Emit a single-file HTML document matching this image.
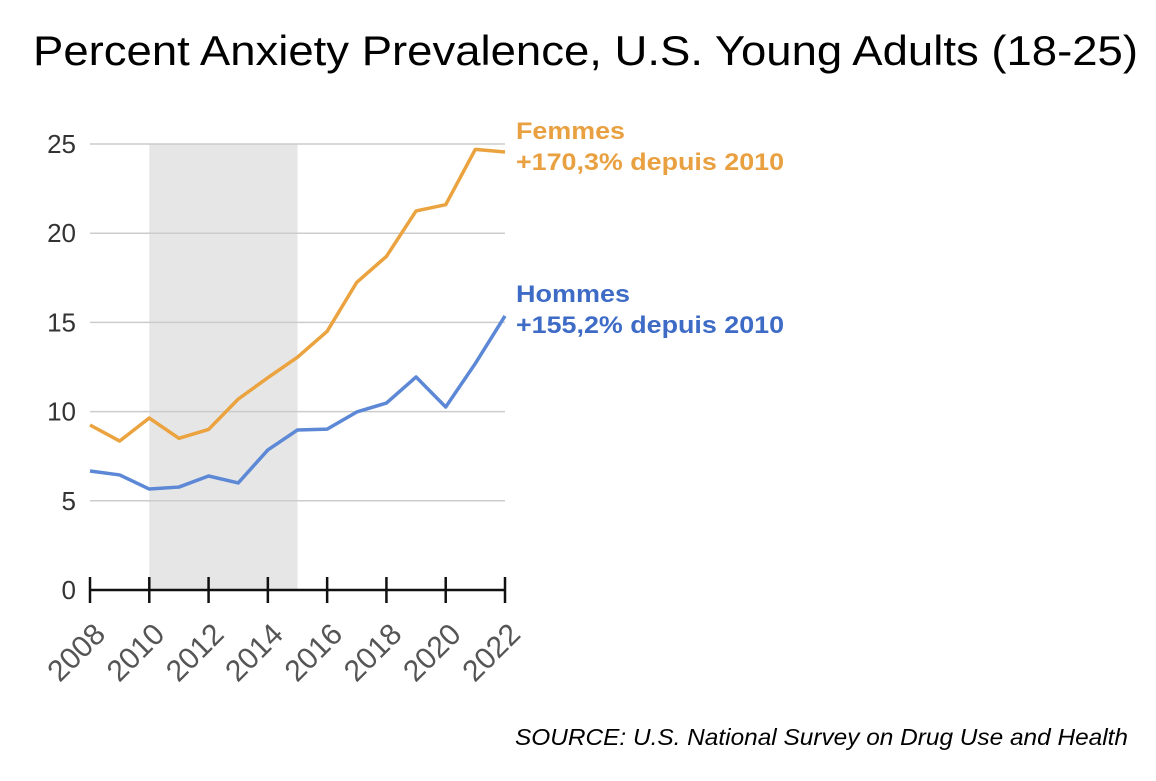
<!DOCTYPE html>
<html><head><meta charset="utf-8"><style>
body{margin:0;background:#fff;width:1156px;height:776px;overflow:hidden}
svg text{font-family:"Liberation Sans",sans-serif}
</style></head><body>
<svg width="1156" height="776">
<text x="33" y="65" font-size="42" textLength="1105" lengthAdjust="spacingAndGlyphs" fill="#000">Percent Anxiety Prevalence, U.S. Young Adults (18-25)</text>
<g id="plot"></g>
<text x="515" y="745" font-size="23" font-style="italic" textLength="613" lengthAdjust="spacingAndGlyphs" fill="#000">SOURCE: U.S. National Survey on Drug Use and Health</text>
</svg>
<script>
const years=[2008,2009,2010,2011,2012,2013,2014,2015,2016,2017,2018,2019,2020,2021,2022];
const femmes=[9.25,8.35,9.64,8.5,9.0,10.7,11.9,13.05,14.5,17.25,18.7,21.25,21.6,24.7,24.55];
const hommes=[6.67,6.45,5.66,5.77,6.39,6.0,7.85,8.97,9.02,9.98,10.48,11.94,10.26,12.7,15.36];
const yTicks=[0,5,10,15,20,25];
const xTicks=[2008,2010,2012,2014,2016,2018,2020,2022];
const band=[2010,2015];
const NS="http://www.w3.org/2000/svg";
const g=document.getElementById('plot');
const X=v=>90+(v-2008)*(415/14);
const Y=v=>590-v*(446/25);
function mk(t,a){const e=document.createElementNS(NS,t);for(const k in a)e.setAttribute(k,a[k]);g.appendChild(e);return e;}
let e=mk('rect',{x:X(band[0]),y:Y(25),width:X(band[1])-X(band[0]),height:Y(0)-Y(25),fill:'#e6e6e6'});


yTicks.forEach(v=>{
 if(v>0){const l=mk('line',{x1:90,x2:505,y1:Y(v),y2:Y(v),stroke:'#ccc','stroke-width':1.5});
 
 }
 const t=mk('text',{x:76,y:Y(v)+9,'text-anchor':'end','font-size':26,fill:'#333'});t.textContent=v;
 
 
});
e=mk('line',{x1:90,x2:505,y1:Y(0),y2:Y(0),stroke:'#111','stroke-width':2.5});


xTicks.forEach(v=>{
 const l=mk('line',{x1:X(v),x2:X(v),y1:577,y2:603,stroke:'#111','stroke-width':2.5});
 
 
 const t=mk('text',{x:X(v)+17,y:636,'text-anchor':'end','font-size':30,fill:'#555',transform:`rotate(-45 ${X(v)+17} 636)`});t.textContent=v;
 
 
});
function line(data,col,name){
 const p=mk('polyline',{points:data.map((v,i)=>X(years[i])+','+Y(v)).join(' '),fill:'none',stroke:col,'stroke-width':3.5,'stroke-linejoin':'round'});
 
 
}
line(femmes,'#EBA340','femmes-line');
line(hommes,'#5C88D6','hommes-line');
function lab(y,txt,col,name,w){const t=mk('text',{x:516,y:y,'font-size':24,'font-weight':'bold',fill:col});t.textContent=txt;
 if(w){t.setAttribute('textLength',w);t.setAttribute('lengthAdjust','spacingAndGlyphs');}
 
 }
lab(139,'Femmes','#E9A040','femmes-legend-title',109);
lab(170,'+170,3% depuis 2010','#E9A040','femmes-legend-change',268);
lab(302,'Hommes','#3D6BC6','hommes-legend-title',114);
lab(333,'+155,2% depuis 2010','#3D6BC6','hommes-legend-change',268);
</script>
</body></html>
